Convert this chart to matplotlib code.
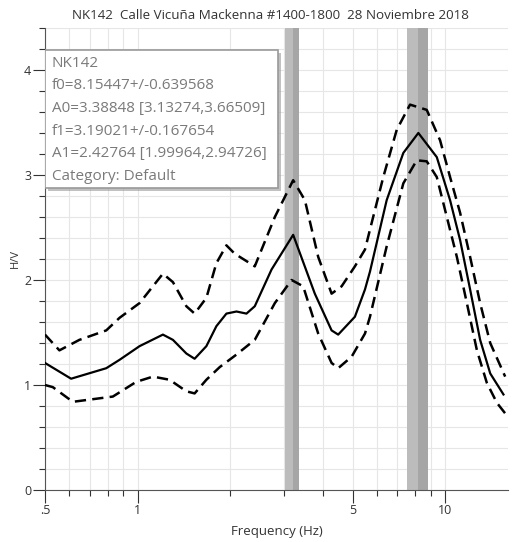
import matplotlib
matplotlib.use("Agg")
import matplotlib.pyplot as plt
from matplotlib.ticker import FixedLocator, NullFormatter, MultipleLocator
import matplotlib.patheffects as pe

plt.rcParams['font.family'] = ['Open Sans', 'DejaVu Sans']

# H/V curve (mean, mean+std, mean-std)
freq_mid = [0.5, 0.608, 0.791, 0.874, 1.015, 1.209, 1.303, 1.441, 1.533, 1.674, 1.804,
            1.945, 2.097, 2.26, 2.405, 2.727, 3.206, 3.77, 4.275, 4.491, 5.09, 5.489,
            5.698, 6.457, 7.314, 8.185, 9.397, 10.38, 11.19, 12.06, 13.0, 14.02, 15.48]
hv_mid = [1.21, 1.06, 1.16, 1.24, 1.37, 1.48, 1.43, 1.30, 1.25, 1.37, 1.56,
          1.68, 1.70, 1.68, 1.75, 2.10, 2.43, 1.87, 1.52, 1.48, 1.65, 1.91,
          2.08, 2.76, 3.21, 3.40, 3.17, 2.76, 2.38, 1.91, 1.43, 1.11, 0.91]

freq_hi = [0.5, 0.557, 0.647, 0.791, 0.874, 1.015, 1.209, 1.303, 1.441, 1.533, 1.674,
           1.804, 1.945, 2.07, 2.26, 2.405, 2.795, 3.206, 3.50, 3.867, 4.275, 4.608,
           5.09, 5.489, 5.698, 6.295, 6.962, 7.691, 8.716, 9.632, 10.38, 11.19, 12.06,
           13.0, 14.02, 15.68]
hv_hi = [1.48, 1.33, 1.43, 1.52, 1.64, 1.78, 2.06, 1.98, 1.75, 1.68, 1.83,
         2.16, 2.33, 2.25, 2.18, 2.13, 2.60, 2.95, 2.76, 2.22, 1.87, 1.94,
         2.13, 2.29, 2.48, 2.98, 3.43, 3.67, 3.62, 3.33, 2.98, 2.64, 2.22,
         1.78, 1.40, 1.08]

freq_lo = [0.5, 0.53, 0.616, 0.831, 0.99, 1.122, 1.271, 1.441, 1.533, 1.674, 1.849,
           2.097, 2.405, 2.795, 3.168, 3.455, 3.867, 4.275, 4.491, 4.968, 5.489, 5.698,
           6.457, 7.314, 8.087, 8.716, 9.397, 10.13, 10.92, 11.77, 12.69, 13.67, 14.74,
           15.68]
hv_lo = [1.00, 0.98, 0.84, 0.89, 1.03, 1.08, 1.05, 0.94, 0.92, 1.05, 1.17,
         1.29, 1.43, 1.78, 2.00, 1.94, 1.49, 1.21, 1.16, 1.27, 1.49, 1.65,
         2.32, 2.92, 3.14, 3.13, 2.98, 2.60, 2.22, 1.78, 1.33, 1.02, 0.83,
         0.73]

# peaks: frequency and standard deviation
f0, f0_std = 8.15447, 0.639568
f1, f1_std = 3.19021, 0.167654

legend_lines = ["NK142",
                "f0=8.15447+/-0.639568",
                "A0=3.38848 [3.13274,3.66509]",
                "f1=3.19021+/-0.167654",
                "A1=2.42764 [1.99964,2.94726]",
                "Category: Default"]

fig = plt.figure(figsize=(5.13, 5.42), dpi=100)
ax = fig.add_axes([0.0877, 0.0959, 0.9023, 0.8525])

# shaded peak bands
for f, s in [(f0, f0_std), (f1, f1_std)]:
    ax.axvspan(f - s, f, color='#bcbcbc', lw=0, zorder=1)
    ax.axvspan(f, f + s, color='#a6a6a6', lw=0, zorder=1)

dash = (0, (4.5, 2.5))
ax.plot(freq_mid, hv_mid, color='black', lw=1.6, zorder=3)
ax.plot(freq_hi, hv_hi, color='black', lw=1.8, ls=dash, zorder=3)
ax.plot(freq_lo, hv_lo, color='black', lw=1.8, ls=dash, zorder=3)

ax.set_xscale('log')
ax.set_xlim(0.5, 16)
ax.set_ylim(0, 4.4)

ax.xaxis.set_major_locator(FixedLocator([0.5, 1, 5, 10]))
ax.set_xticklabels(['.5', '1', '5', '10'])
ax.xaxis.set_minor_locator(FixedLocator([0.6, 0.7, 0.8, 0.9, 2, 3, 4, 6, 7, 8, 9]))
ax.xaxis.set_minor_formatter(NullFormatter())
ax.yaxis.set_major_locator(MultipleLocator(1))
ax.yaxis.set_minor_locator(MultipleLocator(0.2))

ax.grid(True, which='both', color='#e6e6e6', lw=0.8, zorder=0)
ax.set_axisbelow(True)

for side in ['top', 'right']:
    ax.spines[side].set_visible(False)
for side in ['left', 'bottom']:
    ax.spines[side].set_color('#555555')
    ax.spines[side].set_linewidth(0.8)

ax.tick_params(which='major', length=9, width=0.8, color='#333333', labelsize=9,
               labelcolor='#333333', pad=1)
ax.tick_params(which='minor', length=4, width=0.8, color='#333333')

ax.set_xlabel('Frequency (Hz)', fontsize=9.5, color='#333333', labelpad=6)
ax.set_ylabel('H/V', fontsize=8, color='#333333', labelpad=2)
fig.text(0.527, 0.972, 'NK142  Calle Vicuña Mackenna #1400-1800  28 Noviembre 2018',
         ha='center', va='center', fontsize=9.6, color='#333333')

# info box with a light drop shadow
box = plt.Rectangle((0.0, 0.654), 0.503, 0.298, transform=ax.transAxes,
                    facecolor='white', edgecolor='#999999', lw=1.2, zorder=4,
                    path_effects=[pe.SimplePatchShadow(offset=(2, -2), shadow_rgbFace='#999999', alpha=0.6),
                                  pe.Normal()])
ax.add_patch(box)
for i, t in enumerate(legend_lines):
    ax.text(0.015, 0.924 - i * 0.049, t, transform=ax.transAxes, fontsize=11,
            color='#7a7a7a', va='center', ha='left', zorder=5)

fig.savefig('out.png', dpi=100)
